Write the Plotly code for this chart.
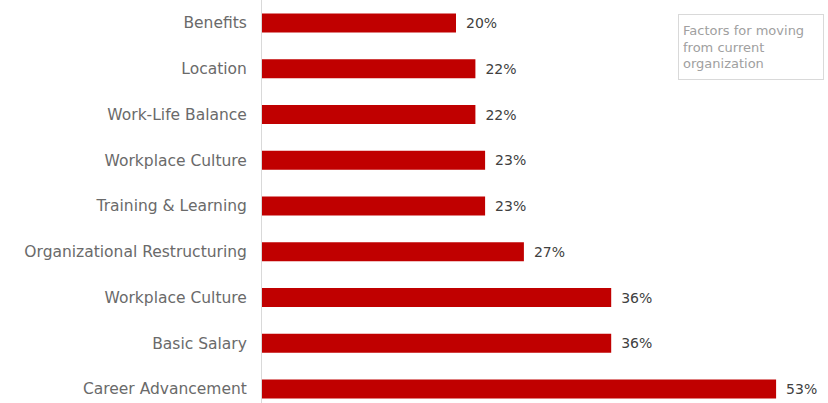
import plotly.graph_objects as go

categories = ["Career Advancement", "Basic Salary", "Workplace Culture",
              "Organizational Restructuring", "Training & Learning",
              "Workplace Culture", "Work-Life Balance", "Location", "Benefits"]
values = [53, 36, 36, 27, 23, 23, 22, 22, 20]
labels = [f"\u2002{v}%" for v in values]
positions = list(range(len(categories)))
legend_text = "Factors for moving<br>from current<br>organization"

fig = go.Figure(go.Bar(
    x=values, y=positions, orientation="h",
    marker=dict(color="#C00000", line=dict(width=0)),
    width=0.42,
    text=labels, textposition="outside",
    textfont=dict(color="#404040", size=14, family="DejaVu Sans"),
    cliponaxis=False,
    showlegend=False,
))

fig.update_layout(
    width=828, height=403,
    margin=dict(l=262, r=0, t=0, b=0),
    plot_bgcolor="white", paper_bgcolor="white",
    font=dict(family="DejaVu Sans", color="#595959", size=13),
    xaxis=dict(range=[0, 58.35], visible=False),
    yaxis=dict(range=[-0.306, 8.503], tickvals=positions, ticktext=categories,
               showline=True, linecolor="#d9d9d9", linewidth=1,
               showgrid=False, zeroline=False, ticks="",
               ticklabelstandoff=11,
               tickfont=dict(size=15.5, color="#6a6a6a")),
)

fig.add_annotation(
    text=legend_text, xref="paper", yref="paper",
    x=(678 - 262) / (828 - 262), y=1 - 14 / 403,
    xanchor="left", yanchor="top", showarrow=False,
    align="left", valign="middle", width=136, height=56,
    font=dict(size=13, color="#a0a0a0", family="DejaVu Sans"),
    bordercolor="#d9d9d9", borderwidth=1, borderpad=4, bgcolor="white",
)

fig.write_html("out.html")
